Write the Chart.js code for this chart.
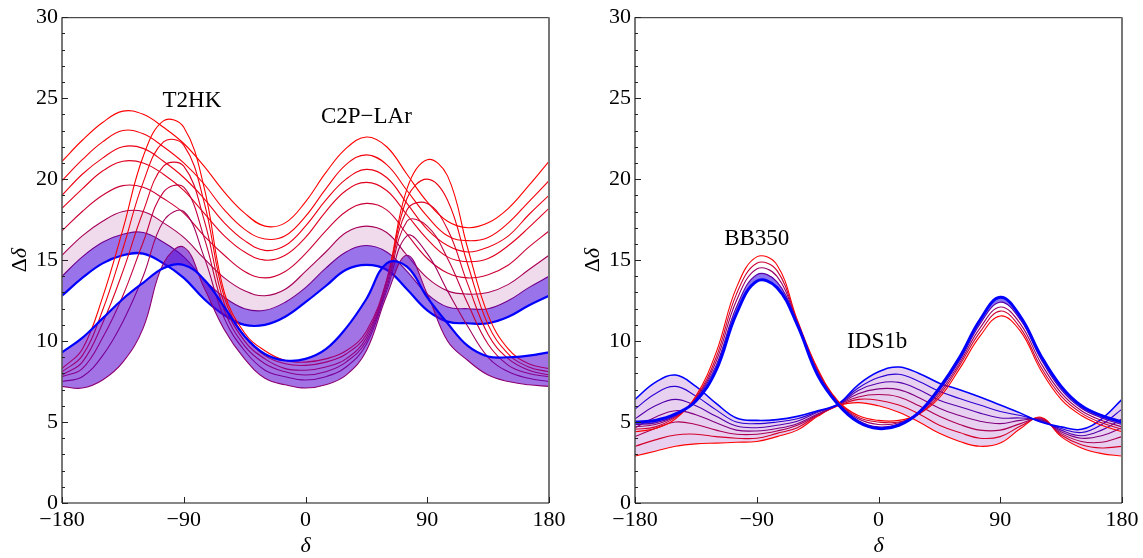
<!DOCTYPE html>
<html><head><meta charset="utf-8">
<script src="https://cdn.jsdelivr.net/npm/chart.js@4/dist/chart.umd.min.js"></script>
<style>
html,body{margin:0;padding:0;background:#fff;width:1143px;height:558px;overflow:hidden}
#l{position:absolute;left:0;top:0}
#r{position:absolute;left:571px;top:0}
</style></head><body>
<canvas id="l" width="571" height="558"></canvas>
<canvas id="r" width="572" height="558"></canvas>
<script>
// ---- data ----
const DELTA = [-180,-165,-150,-135,-120,-105,-90,-75,-60,-45,-30,-15,0,15,30,45,60,75,90,105,120,135,150,165,180];
const X_TICKS = [-180,-90,0,90,180];
const Y_TICKS = [0,5,10,15,20,25,30];

// Left panel, C2P-LAr family (broad peaks), red -> blue
const A_red  = [21.1,22.4,23.5,24.2,24.0,23.2,22.2,20.8,19.2,17.9,17.1,17.3,18.6,20.4,21.9,22.6,22.0,20.3,18.6,17.4,17.0,17.3,18.2,19.6,21.1];
const A_c1   = [19.9,21.2,22.3,23.0,22.8,22.0,21.0,19.7,18.1,16.9,16.3,16.5,17.7,19.4,20.9,21.5,20.9,19.3,17.7,16.5,16.2,16.4,17.3,18.6,19.9];
const A_c2   = [19.0,20.3,21.3,22.0,21.9,21.1,20.1,18.8,17.3,16.2,15.6,15.9,17.1,18.7,20.0,20.6,20.1,18.5,16.9,15.9,15.5,15.8,16.5,17.8,19.0];
const A_c3   = [18.2,19.4,20.5,21.1,21.0,20.3,19.3,17.9,16.5,15.5,15.0,15.3,16.4,18.0,19.3,19.8,19.3,17.8,16.3,15.2,14.9,15.1,15.9,17.0,18.2];
const A_c5   = [16.8,18.0,19.0,19.6,19.5,18.8,17.9,16.5,15.3,14.3,13.9,14.3,15.4,16.8,18.0,18.5,18.1,16.6,15.1,14.2,13.9,14.1,14.7,15.8,16.8];
const A_c8   = [15.3,16.5,17.4,18.0,18.0,17.3,16.4,15.1,13.9,13.1,12.8,13.2,14.3,15.5,16.7,17.1,16.7,15.3,13.9,13.1,12.9,13.0,13.5,14.4,15.3];
const A_c13  = [14.0,15.2,16.1,16.6,16.7,16.1,15.2,13.8,12.7,12.0,11.9,12.4,13.3,14.5,15.5,15.9,15.5,14.3,12.9,12.1,12.0,12.0,12.5,13.3,14.0];
const A_blue = [12.8,13.9,14.8,15.3,15.4,14.8,13.9,12.6,11.6,11.0,11.0,11.5,12.4,13.4,14.4,14.7,14.4,13.2,11.9,11.2,11.1,11.1,11.5,12.2,12.8];

// Left panel, T2HK family (sharp peaks)
const B_red    = [8.3,9.5,12.7,16.9,21.4,23.6,23.2,19.5,13.0,10.5,9.4,8.8,8.7,8.9,9.4,10.6,13.8,19.4,21.2,20.2,15.7,11.6,9.5,8.6,8.3];
const B_c1     = [8.1,9.1,11.9,15.7,19.8,22.3,22.1,18.6,12.7,10.3,9.1,8.6,8.5,8.7,9.2,10.4,13.7,18.8,20.0,18.7,14.7,11.0,9.2,8.4,8.1];
const B_c2     = [7.9,8.7,11.1,14.3,18.0,20.8,20.8,17.5,12.3,10.0,8.9,8.3,8.2,8.4,8.9,10.2,13.5,18.1,18.5,16.9,13.5,10.4,8.9,8.2,7.9];
const B_c3     = [7.8,8.3,10.2,12.8,16.1,19.2,19.5,16.4,11.9,9.7,8.6,8.1,7.9,8.1,8.7,10.0,13.3,17.4,17.1,15.1,12.3,9.8,8.5,8.0,7.8];
const B_c4     = [7.5,7.8,9.1,11.2,14.0,17.4,18.0,15.2,11.4,9.4,8.2,7.8,7.6,7.8,8.4,9.8,13.1,16.5,15.4,13.1,10.9,9.0,8.1,7.7,7.5];
const B_purple = [7.2,7.1,7.6,8.7,10.8,14.8,15.8,13.3,10.7,8.9,7.7,7.3,7.1,7.3,7.9,9.4,12.8,15.3,12.9,10.0,8.8,7.9,7.5,7.3,7.2];
const B_blue   = [9.3,10.2,11.4,12.6,13.6,14.5,14.7,13.8,12.1,10.3,9.2,8.8,8.9,9.5,10.8,12.6,14.8,14.6,12.7,11.1,9.7,9.05,9.0,9.1,9.3];

// Right panel, IDS1b family (broad humps)
const I_red  = [2.9,3.2,3.5,3.65,3.7,3.75,3.8,4.1,4.5,5.35,6.0,6.2,6.0,5.6,5.0,4.3,3.8,3.5,3.7,4.6,5.3,4.1,3.4,3.05,2.9];
const I_c1   = [3.5,3.9,4.2,4.25,4.1,4.0,4.0,4.3,4.65,5.4,6.0,6.4,6.35,6.05,5.5,4.8,4.35,4.0,4.1,4.75,5.25,4.2,3.6,3.4,3.5];
const I_c2   = [4.1,4.6,5.0,4.85,4.5,4.25,4.25,4.45,4.8,5.45,6.05,6.55,6.7,6.55,6.0,5.35,4.85,4.5,4.5,4.9,5.2,4.3,3.8,3.75,4.1];
const I_c3   = [4.65,5.3,5.7,5.45,4.95,4.5,4.45,4.6,4.9,5.5,6.05,6.75,7.05,7.0,6.5,5.85,5.4,5.05,4.9,5.1,5.15,4.4,4.0,4.15,4.65];
const I_c4   = [5.2,6.0,6.4,6.0,5.35,4.75,4.65,4.8,5.05,5.6,6.05,6.95,7.4,7.45,7.0,6.35,5.95,5.55,5.25,5.25,5.1,4.5,4.15,4.5,5.2];
const I_c5   = [5.8,6.75,7.2,6.6,5.75,5.0,4.9,5.0,5.2,5.65,6.1,7.1,7.75,7.95,7.5,6.9,6.45,6.05,5.65,5.4,5.05,4.6,4.35,4.85,5.8];
const I_blue = [6.4,7.45,7.9,7.2,6.15,5.25,5.1,5.15,5.35,5.7,6.1,7.3,8.1,8.4,8.0,7.4,7.0,6.55,6.05,5.55,5.0,4.7,4.55,5.2,6.4];

// Right panel, BB350 family (sharp peaks)
const P_red  = [4.4,4.6,5.2,6.6,9.3,13.3,15.2,14.7,11.3,8.3,6.3,5.4,5.1,5.1,5.5,6.5,8.3,10.3,11.55,10.6,8.2,6.4,5.4,4.8,4.4];
const P_c1   = [4.55,4.7,5.3,6.5,9.0,12.9,14.8,14.35,11.2,8.2,6.25,5.3,5.0,5.0,5.5,6.65,8.5,10.55,11.85,10.8,8.4,6.6,5.55,4.95,4.55];
const P_c2   = [4.7,4.85,5.35,6.45,8.75,12.5,14.45,14.0,11.15,8.1,6.2,5.2,4.85,4.95,5.55,6.8,8.65,10.8,12.1,11.05,8.65,6.8,5.7,5.1,4.7];
const P_c3   = [4.85,4.95,5.4,6.4,8.5,12.1,14.1,13.65,11.1,8.0,6.15,5.1,4.7,4.9,5.6,6.95,8.8,11.05,12.4,11.3,8.9,7.0,5.85,5.25,4.85];
const P_blue = [5.0,5.1,5.5,6.3,8.2,11.7,13.7,13.3,11.0,7.9,6.1,5.0,4.6,4.8,5.6,7.1,9.0,11.3,12.7,11.5,9.1,7.2,6.0,5.4,5.0];

const LABELS_LEFT  = [{text:'T2HK', x:-84, y:24.9}, {text:'C2P\u2212LAr', x:45, y:23.95}];
const LABELS_RIGHT = [{text:'BB350', x:-90, y:16.4}, {text:'IDS1b', x:-1, y:10.05}];

// ---- drawing ----
const FONT = '"Liberation Serif", "Times New Roman", serif';
function col(t){ return 'rgb(' + Math.round(255*t) + ',0,' + Math.round(255*(1-t)) + ')'; }
function pts(arr){ return DELTA.map((d,i)=>({x:d, y:arr[i]})); }
function line(arr, t, extra){
  return Object.assign({data:pts(arr), borderColor:col(t), borderWidth:1.1, pointRadius:0, tension:0.4, fill:false}, extra||{});
}
function orderize(list){ const n=list.length; list.forEach((d,i)=>{ d.order = n - i; }); return list; }

const deco = {
  id:'deco',
  afterDatasetsDraw(chart, args, o){
    const {ctx, chartArea:a, scales:{x, y}} = chart;
    ctx.save();
    const seg=(x1,y1,x2,y2)=>{ctx.beginPath();ctx.moveTo(x1,y1);ctx.lineTo(x2,y2);ctx.stroke();};
    ctx.strokeStyle='#222'; ctx.lineWidth=1; seg(a.left, a.top+0.5, a.right, a.top+0.5);
    ctx.strokeStyle='#777'; ctx.lineWidth=2; seg(a.right, a.top, a.right, a.bottom);
    ctx.strokeStyle='#555'; ctx.lineWidth=1.6; seg(a.left, a.top, a.left, a.bottom);
    ctx.strokeStyle='#111'; ctx.lineWidth=1.2; seg(a.left, a.bottom, a.right, a.bottom);
    ctx.strokeStyle='#222'; ctx.lineWidth=1;
    const yMin = Y_TICKS[0], yMax = Y_TICKS[Y_TICKS.length-1];
    for (let v=yMin; v<=yMax; v+=1){
      const py = Math.round(y.getPixelForValue(v))+0.5;
      seg(a.left, py, a.left + (Y_TICKS.includes(v) ? 6 : 3), py);
    }
    for (const d of X_TICKS){
      const px = Math.round(x.getPixelForValue(d))+0.5;
      seg(px, a.bottom, px, a.bottom-6);
    }
    ctx.fillStyle='#000';
    ctx.font = '23px ' + FONT; ctx.textAlign='center'; ctx.textBaseline='alphabetic';
    for (const L of o.labels) ctx.fillText(L.text, x.getPixelForValue(L.x), y.getPixelForValue(L.y)+7.5);
    ctx.font = 'italic 22px ' + FONT; ctx.textBaseline='middle';
    ctx.fillText('\u03b4', (a.left+a.right)/2, a.bottom+43);
    ctx.translate(a.left - 42, (a.top+a.bottom)/2);
    ctx.rotate(-Math.PI/2);
    ctx.font = '22px ' + FONT; const w1 = ctx.measureText('\u0394').width;
    ctx.font = 'italic 22px ' + FONT; const w2 = ctx.measureText('\u03b4').width;
    ctx.textAlign='left';
    ctx.font = '22px ' + FONT; ctx.fillText('\u0394', -(w1+w2)/2, 0);
    ctx.font = 'italic 22px ' + FONT; ctx.fillText('\u03b4', -(w1+w2)/2 + w1, 0);
    ctx.restore();
  }
};

function fmt(v){ return v < 0 ? '\u2212' + Math.abs(v) : String(v); }

function makeChart(id, datasets, yWidth, padRight, labels){
  return new Chart(document.getElementById(id), {
    type:'line',
    data:{datasets},
    plugins:[deco],
    options:{
      responsive:false, animation:false, devicePixelRatio:1,
      layout:{padding:{left:0, right:padRight, top:17, bottom:0}},
      plugins:{legend:{display:false}, tooltip:{enabled:false}, deco:{labels}},
      scales:{
        x:{type:'linear', min:-180, max:180,
           grid:{display:false, drawTicks:false}, border:{display:false},
           afterBuildTicks:s=>{ s.ticks = X_TICKS.map(v=>({value:v})); },
           afterFit:s=>{ s.height = 55; },
           ticks:{autoSkip:false, maxRotation:0, padding:4, color:'#000', font:{family:FONT, size:22}, callback:v=>fmt(v)}},
        y:{type:'linear', min:0, max:30,
           grid:{display:false, drawTicks:false}, border:{display:false},
           afterBuildTicks:s=>{ s.ticks = Y_TICKS.map(v=>({value:v})); },
           afterFit:s=>{ s.width = yWidth; },
           ticks:{padding:4, color:'#000', font:{family:FONT, size:22}, callback:v=>fmt(v)}}
      }
    }
  });
}

const left = [
  line(A_red,1), line(A_c1,0.96), line(A_c2,0.92), line(A_c3,0.88), line(A_c5,0.8), line(A_c8,0.66,{fill:{target:6}, backgroundColor:'rgba(150,0,130,0.14)'}),
  line(A_c13,0.45,{fill:{target:7}, backgroundColor:'rgba(70,0,215,0.55)'}), line(A_blue,0,{borderWidth:2.2}),
  line(B_red,1), line(B_c1,0.94), line(B_c2,0.86), line(B_c3,0.76), line(B_c4,0.64),
  line(B_purple,0.55,{fill:{target:14}, backgroundColor:'rgba(85,0,205,0.55)'}), line(B_blue,0,{borderWidth:2.2})
];
const right = [
  line(I_red,1,{fill:{target:6}, backgroundColor:'rgba(130,0,170,0.18)'}), line(I_c1,0.83), line(I_c2,0.67), line(I_c3,0.5), line(I_c4,0.33), line(I_c5,0.17), line(I_blue,0,{borderWidth:1.6}),
  line(P_red,1), line(P_c1,0.8), line(P_c2,0.6), line(P_c3,0.35,{fill:{target:11}, backgroundColor:'rgba(40,0,230,0.55)'}), line(P_blue,0,{borderWidth:3})
];
makeChart('l', orderize(left), 62, 22, LABELS_LEFT);
makeChart('r', orderize(right), 64, 21, LABELS_RIGHT);
</script></body></html>
